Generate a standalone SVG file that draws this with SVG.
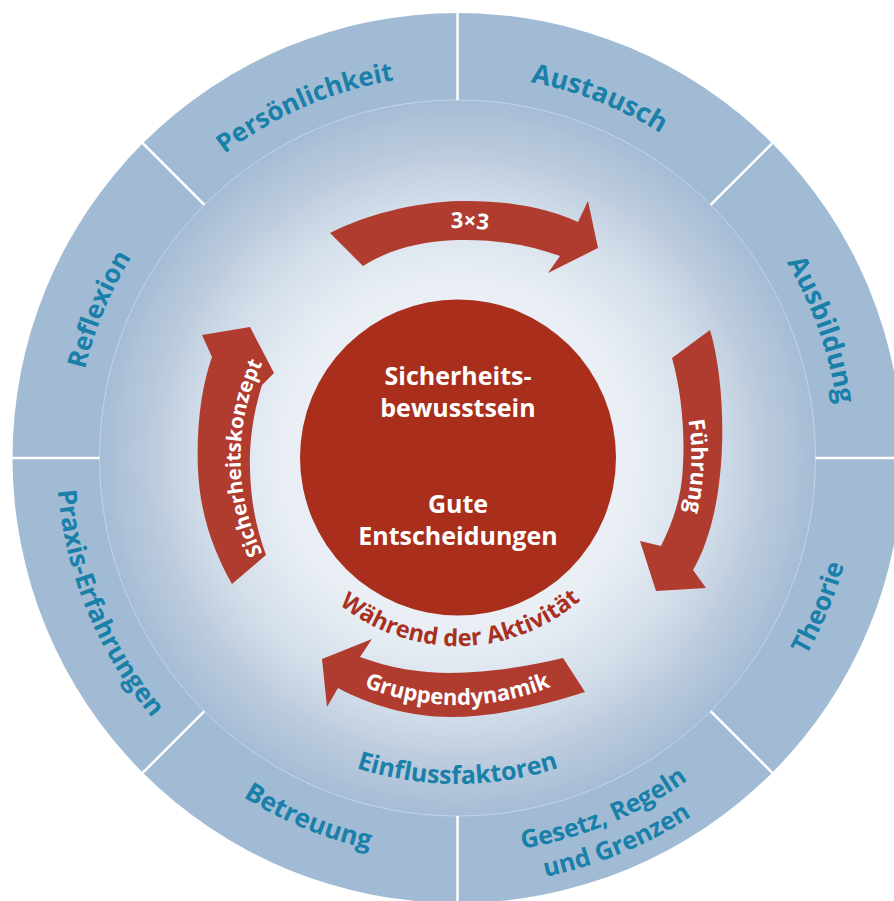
<svg xmlns="http://www.w3.org/2000/svg" width="894" height="901" viewBox="0 0 894 901">
<defs>
<style>
.ring{font-family:"Open Sans","Noto Sans","DejaVu Sans",sans-serif;font-weight:700;font-size:26px;fill:#1880a9}
.arrow{fill:#b03b2f}
.atext{font-family:"Open Sans","Noto Sans","DejaVu Sans",sans-serif;font-weight:700;font-size:22px;fill:#ffffff}
.ctext{font-family:"Open Sans","Noto Sans","DejaVu Sans",sans-serif;font-weight:700;font-size:25px;fill:#ffffff}
.rtext{font-family:"Open Sans","Noto Sans","DejaVu Sans",sans-serif;font-weight:700;font-size:23.5px;fill:#a8301f}
.div{stroke:#ffffff;stroke-width:2.5}
</style>
<radialGradient id="innerGrad" cx="0" cy="0" r="359" gradientUnits="userSpaceOnUse">
<stop offset="0" stop-color="#f3f6fa"/>
<stop offset="0.5" stop-color="#e9eef5"/>
<stop offset="0.7" stop-color="#d4dfea"/>
<stop offset="0.85" stop-color="#bccbdd"/>
<stop offset="1" stop-color="#a5bcd5"/>
</radialGradient>
<path id="pPers" d="M-342.8,-170.9 A383,383 0 0 1 108.8,-367.2"/>
<path id="pAust" d="M-121.5,-363.2 A383,383 0 0 1 336.6,-182.8"/>
<path id="pAusb" d="M194.9,-329.7 A383,383 0 0 1 358.6,134.5"/>
<path id="pRefl" d="M-365.3,115.2 A383,383 0 0 1 -176.8,-339.7"/>
<path id="pTheo" d="M185.1,355.7 A401,401 0 0 0 382.4,-120.6"/>
<path id="pGes1" d="M-119.1,377.7 A396,396 0 0 0 351.3,182.8"/>
<path id="pGes2" d="M-128.7,408.2 A428,428 0 0 0 379.6,197.6"/>
<path id="pBetr" d="M-355.7,185.1 A401,401 0 0 0 120.6,382.4"/>
<path id="pPrax" d="M-355.7,-185.1 A401,401 0 0 0 -120.6,382.4"/>
<path id="pEinf" d="M-282.3,163 A326,326 0 0 0 282.3,163"/>
<path id="pWaehr" d="M-175.5,67.4 A188,188 0 0 0 177.8,61.2"/>
<path id="p33" d="M-192.9,-125.3 A230,230 0 0 1 204.9,-104.4"/>
<path id="pFuehr" d="M124.0,-198.4 A234,234 0 0 1 109.9,206.6"/>
<path id="pSich" d="M-108.5,187.9 A217,217 0 0 1 -108.5,-187.9"/>
<path id="pGrup" d="M-213.9,123.5 A247,247 0 0 0 213.9,123.5"/>
</defs>
<rect width="894" height="901" fill="#ffffff"/>
<g id="background" transform="translate(457.5 458)">
<circle r="445" fill="#a2bbd5"/>
<circle r="358" fill="url(#innerGrad)"/>
<circle r="358" fill="none" stroke="#ffffff" stroke-opacity="0.35" stroke-width="1"/>
<g id="dividers">
<line class="div" x1="358" y1="0" x2="447" y2="0"/>
<line class="div" x1="253.1" y1="253.1" x2="316.1" y2="316.1"/>
<line class="div" x1="0" y1="358" x2="0" y2="447"/>
<line class="div" x1="-253.1" y1="253.1" x2="-316.1" y2="316.1"/>
<line class="div" x1="-358" y1="0" x2="-447" y2="0"/>
<line class="div" x1="-253.1" y1="-253.1" x2="-316.1" y2="-316.1"/>
<line class="div" x1="0" y1="-358" x2="0" y2="-447"/>
<line class="div" x1="253.1" y1="-253.1" x2="316.1" y2="-316.1"/>
</g>
</g>
<g transform="translate(457.5 458)">
<g id="persoenlichkeit"><text class="ring"><textPath href="#pPers" startOffset="50%" text-anchor="middle">Persönlichkeit</textPath></text></g>
<g id="austausch"><text class="ring" style="font-size:27px"><textPath href="#pAust" startOffset="50%" text-anchor="middle">Austausch</textPath></text></g>
<g id="ausbildung"><text class="ring" style="font-size:27px"><textPath href="#pAusb" startOffset="50%" text-anchor="middle">Ausbildung</textPath></text></g>
<g id="theorie"><text class="ring"><textPath href="#pTheo" startOffset="50%" text-anchor="middle">Theorie</textPath></text></g>
<g id="gesetz"><text class="ring" style="font-size:25px"><textPath href="#pGes1" startOffset="50%" text-anchor="middle">Gesetz, Regeln</textPath></text><text class="ring" style="font-size:25px"><textPath href="#pGes2" startOffset="50%" text-anchor="middle">und Grenzen</textPath></text></g>
<g id="betreuung"><text class="ring"><textPath href="#pBetr" startOffset="50%" text-anchor="middle">Betreuung</textPath></text></g>
<g id="praxis"><text class="ring"><textPath href="#pPrax" startOffset="50%" text-anchor="middle">Praxis-Erfahrungen</textPath></text></g>
<g id="reflexion"><text class="ring"><textPath href="#pRefl" startOffset="50%" text-anchor="middle">Reflexion</textPath></text></g>
<g id="einflussfaktoren"><text class="ring" style="font-size:25px"><textPath href="#pEinf" startOffset="50%" text-anchor="middle">Einflussfaktoren</textPath></text></g>
<g id="waehrend"><text class="rtext"><textPath href="#pWaehr" startOffset="50%" text-anchor="middle">Während der Aktivität</textPath></text></g>
</g>
<g id="center">
<circle cx="458" cy="457.5" r="158" fill="#a92f1c"/>
<text class="ctext" x="458" y="385" text-anchor="middle">Sicherheits-</text>
<text class="ctext" x="458" y="417" text-anchor="middle">bewusstsein</text>
<text class="ctext" x="458" y="513" text-anchor="middle">Gute</text>
<text class="ctext" x="458" y="545" text-anchor="middle">Entscheidungen</text>
</g>
<g id="connectors">
<g id="arrow-3x3">
<path class="arrow" d="M330,233 C365,215 415,202 460,201 C505,200 548,208 578,222 L588,201 L598,248 L548,273 L560,256 C530,245 495,239 458,240 C420,241 388,250 363,266 Z"/>
<text class="atext" transform="translate(457.5 458)"><textPath href="#p33" startOffset="50%" text-anchor="middle">3×3</textPath></text>
</g>
<g id="arrow-fuehrung">
<path class="arrow" d="M710,330 C722,370 725,430 720,475 C716,515 706,548 693,570 L706,588 L656,591 L640,541 L661,546 C674,520 682,495 683,465 C685,430 681,390 672,358 Z"/>
<text class="atext" transform="translate(457.5 458)"><textPath href="#pFuehr" startOffset="50%" text-anchor="middle">Führung</textPath></text>
</g>
<g id="arrow-gruppendynamik">
<path class="arrow" d="M372,639 L322,659 L327,707 L338,688 C370,705 410,717 450,717 C495,717 545,705 585,692 L563,658 C530,666 495,672 450,673 C420,673 390,668 360,657 Z"/>
<text class="atext" transform="translate(457.5 458)"><textPath href="#pGrup" startOffset="50%" text-anchor="middle">Gruppendynamik</textPath></text>
</g>
<g id="arrow-sicherheitskonzept">
<path class="arrow" d="M202,335 L250,327 L274,373 L262,385 C254,410 249,440 250,470 C251,505 257,530 266,555 L232,584 C214,552 200,515 198,470 C196,425 202,385 212,357 Z"/>
<text class="atext" style="font-size:20.5px" transform="translate(457.5 458)"><textPath href="#pSich" startOffset="50%" text-anchor="middle">Sicherheitskonzept</textPath></text>
</g>
</g>
</svg>
